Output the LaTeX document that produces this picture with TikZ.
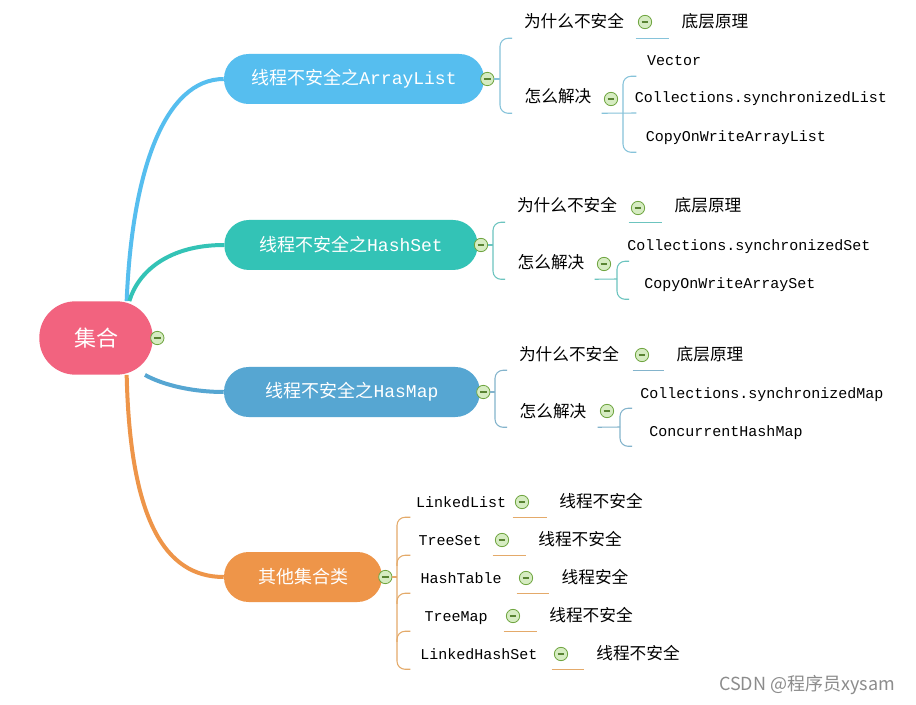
\documentclass[tikz,border=0pt]{standalone}
\usepackage{fontspec}
\setmainfont{Noto Sans CJK SC}
\setmonofont{Liberation Mono}
\usetikzlibrary{positioning}

\definecolor{rootpink}{HTML}{F2637F}
\definecolor{skyblue}{HTML}{56BEEF}
\definecolor{tealbr}{HTML}{33C3B6}
\definecolor{steel}{HTML}{56A6D2}
\definecolor{carrot}{HTML}{EE9549}
\definecolor{twigA}{HTML}{86C3DA}
\definecolor{twigB}{HTML}{6CC4BF}
\definecolor{twigC}{HTML}{84B4CC}
\definecolor{twigD}{HTML}{E4AA6A}
\definecolor{togfill}{HTML}{D6ECC2}
\definecolor{togline}{HTML}{6FA540}

\begin{document}
\begin{tikzpicture}[x=0.75pt,y=-0.75pt,
  pill/.style={rounded corners=18.5pt,minimum height=37.5pt,text=white,inner xsep=0pt,font=\fontsize{13.5}{16}\selectfont},
  leaf/.style={inner xsep=9pt,inner ysep=0pt,minimum height=24pt,text height=10.5pt,text depth=1.5pt,font=\fontsize{12.5}{14}\selectfont},
  latin/.style={leaf,font=\ttfamily\fontsize{11.25}{13}\selectfont},
  tog/.style={circle,draw=togline,fill=togfill,minimum size=10pt,inner sep=0pt,line width=0.6pt,
    path picture={\draw[togline!80!black,line width=0.8pt] ([xshift=-2.6pt]path picture bounding box.center) -- ([xshift=2.6pt]path picture bounding box.center);}},
  trunk/.style={line width=3pt},
  twig/.style={line width=0.8pt,rounded corners=6pt}]
\fill[white] (0,0) rectangle (916,705);
\useasboundingbox (0,0) rectangle (916,705);

% root and the four main topics
\node[pill,fill=rootpink,minimum width=85pt,minimum height=55pt,rounded corners=27pt,font=\fontsize{16.5}{19}\selectfont] (root) at (96,338) {集合};
\node[tog,right=-2pt of root] (t0) {};
\node[pill,fill=skyblue,minimum width=195pt] (list) at (354,79) {线程不安全之\texttt{ArrayList}};
\node[pill,fill=tealbr,minimum width=190pt] (set) at (351,245) {线程不安全之\texttt{HashSet}};
\node[pill,fill=steel,minimum width=192pt] (map) at (352,392) {线程不安全之\texttt{HasMap}};
\node[pill,fill=carrot,minimum width=118.5pt] (other) at (303,577) {其他集合类};
\node[tog,right=-3pt of list] (t1) {};
\node[tog,right=-3pt of set] (t2) {};
\node[tog,right=-3pt of map] (t3) {};
\node[tog,right=-3pt of other] (t4) {};

\draw[trunk,skyblue] ([xshift=23pt]root.north) .. controls (132,170) and (165,79) .. (list.west);
\draw[trunk,tealbr] ([xshift=25pt]root.north) .. controls (138,272) and (168,245) .. (set.west);
\draw[trunk,steel] ([xshift=-6pt]root.south east) .. controls (165,386) and (195,392) .. (map.west);
\draw[trunk,carrot] ([xshift=23pt]root.south) .. controls (130,520) and (165,577) .. (other.west);

% ArrayList
\coordinate (b1) at (500,79);
\node[leaf] (why1) at (574,22) {为什么不安全};
\node[tog] (tw1) at (645,22) {};
\node[leaf] (base1) at (715,22) {底层原理};
\node[leaf] (how1) at (558,97) {怎么解决};
\node[tog] (th1) at (611,99) {};
\coordinate (b11) at (623,113);
\node[latin] (vec) at (674,60) {Vector};
\node[latin] (synl) at (761,97) {Collections.synchronizedList};
\node[latin] (cowl) at (736,136) {CopyOnWriteArrayList};
\begin{scope}[twig,twigA]
\draw (t1) -- (b1);
\draw ([xshift=9pt]b1 |- why1.south) -| (b1) |- ([xshift=9pt]b1 |- how1.south);
\draw ([xshift=-7pt]tw1.center |- base1.south) -- (base1.south west);
\draw ([xshift=-7pt]th1.center |- how1.south) -- ([xshift=10pt]b11);
\draw ([xshift=10pt]b11 |- vec.south) -| (b11) |- ([xshift=10pt]b11 |- cowl.south);
\end{scope}

% HashSet
\coordinate (b2) at (493,245);
\node[leaf] (why2) at (567,206) {为什么不安全};
\node[tog] (tw2) at (638,208) {};
\node[leaf] (base2) at (708,206) {底层原理};
\node[leaf] (how2) at (551,263) {怎么解决};
\node[tog] (th2) at (604,264) {};
\coordinate (b21) at (617,279);
\node[latin] (syns) at (749,245) {Collections.synchronizedSet};
\node[latin] (cows) at (730,283) {CopyOnWriteArraySet};
\begin{scope}[twig,twigB]
\draw (t2) -- (b2);
\draw ([xshift=9pt]b2 |- why2.south) -| (b2) |- ([xshift=9pt]b2 |- how2.south);
\draw ([xshift=-7pt]tw2.center |- base2.south) -- (base2.south west);
\draw ([xshift=-7pt]th2.center |- how2.south) -- (b21);
\draw ([xshift=9pt]b21 |- syns.south) -| (b21) |- ([xshift=9pt]b21 |- cows.south);
\end{scope}

% HasMap
\coordinate (b3) at (495,392);
\node[leaf] (why3) at (569,354) {为什么不安全};
\node[tog] (tw3) at (642,355) {};
\node[leaf] (base3) at (710,354) {底层原理};
\node[leaf] (how3) at (553,411) {怎么解决};
\node[tog] (th3) at (607,411) {};
\coordinate (b31) at (620,427);
\node[latin] (synm) at (762,392) {Collections.synchronizedMap};
\node[latin] (chm) at (726,430) {ConcurrentHashMap};
\begin{scope}[twig,twigC]
\draw (t3) -- (b3);
\draw ([xshift=9pt]b3 |- why3.south) -| (b3) |- ([xshift=9pt]b3 |- how3.south);
\draw ([xshift=-7pt]tw3.center |- base3.south) -- (base3.south west);
\draw ([xshift=-7pt]th3.center |- how3.south) -- (b31);
\draw ([xshift=9pt]b31 |- synm.south) -| (b31) |- ([xshift=9pt]b31 |- chm.south);
\end{scope}

% other collections
\coordinate (b4) at (397,577);
\node[latin] (ll) at (461,501) {LinkedList};
\node[latin] (ts) at (450,539) {TreeSet};
\node[latin] (ht) at (461,577) {HashTable};
\node[latin] (tm) at (456,615) {TreeMap};
\node[latin] (lhs) at (479,653) {LinkedHashSet};
\node[tog] (ti1) at (522,502) {};
\node[tog] (ti2) at (502,540) {};
\node[tog] (ti3) at (526,578) {};
\node[tog] (ti4) at (513,616) {};
\node[tog] (ti5) at (561,654) {};
\node[leaf] (nb1) at (601,501) {线程不安全};
\node[leaf] (nb2) at (580,539) {线程不安全};
\node[leaf] (nb3) at (595,577) {线程安全};
\node[leaf] (nb4) at (591,615) {线程不安全};
\node[leaf] (nb5) at (638,653) {线程不安全};
\begin{scope}[twig,twigD]
\draw (t4) -- (b4);
\draw ([xshift=10pt]b4 |- ll.south) -| (b4) |- ([xshift=10pt]b4 |- lhs.south);
\foreach \n in {ts,ht,tm}
  \draw ([yshift=-8pt]b4 |- \n.south) |- ([xshift=10pt]b4 |- \n.south);
\foreach \i in {1,...,5}
  \draw ([xshift=-7pt]ti\i.center |- nb\i.south) -- (nb\i.south west);
\end{scope}

\node[text=black!45,font=\fontsize{13.5}{16}\selectfont] (mark) at (807,685) {CSDN @程序员xysam};
\end{tikzpicture}
\end{document}
